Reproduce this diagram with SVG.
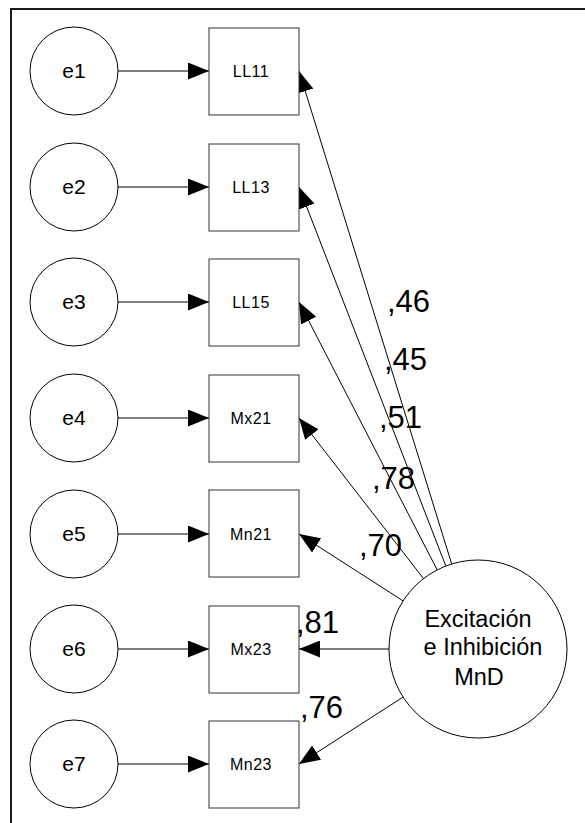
<svg xmlns="http://www.w3.org/2000/svg" width="585" height="823" viewBox="0 0 585 823">
<defs>
<marker id="ah" markerUnits="userSpaceOnUse" markerWidth="22" markerHeight="17" refX="21" refY="8.5" orient="auto">
<path d="M0,0 L21,8.5 L0,17 Z" fill="#000"/>
</marker>
<style>
.c{fill:#fff;stroke:#000;stroke-width:1}
.b{fill:#fff;stroke:#333;stroke-width:1}
.t{font-family:"Liberation Sans",Arial,sans-serif;fill:#000}
.e{font-size:21px;text-anchor:middle}
.v{font-size:16px;text-anchor:middle;letter-spacing:0.5px}
.w{font-size:31px}
.l{font-size:23.5px;text-anchor:middle}
.a{stroke:#000;stroke-width:1;fill:none;marker-end:url(#ah)}
</style>
</defs>
<rect width="585" height="823" fill="#fff"/>
<path d="M11,823 L11,9 L585,9" fill="none" stroke="#1a1a1a" stroke-width="2"/>
<g id="connectors">
<line class="a" x1="118" y1="71" x2="209" y2="71"/>
<line class="a" x1="118" y1="187" x2="209" y2="187"/>
<line class="a" x1="118" y1="302" x2="209" y2="302"/>
<line class="a" x1="118" y1="418" x2="209" y2="418"/>
<line class="a" x1="118" y1="534" x2="209" y2="534"/>
<line class="a" x1="118" y1="649" x2="209" y2="649"/>
<line class="a" x1="118" y1="764" x2="209" y2="764"/>
<line class="a" x1="451.7" y1="564" x2="299" y2="71"/>
<line class="a" x1="445.8" y1="566" x2="299" y2="187"/>
<line class="a" x1="437.2" y1="569.9" x2="299" y2="302"/>
<line class="a" x1="423.5" y1="578.6" x2="299" y2="418"/>
<line class="a" x1="403.1" y1="600.9" x2="299" y2="534"/>
<line class="a" x1="389" y1="649" x2="299" y2="649"/>
<line class="a" x1="403.1" y1="697.1" x2="299" y2="764"/>
</g>
<g id="e1"><circle class="c" cx="74" cy="71" r="44"/><text class="t e" x="74" y="78">e1</text></g>
<g id="e2"><circle class="c" cx="74" cy="187" r="44"/><text class="t e" x="74" y="194">e2</text></g>
<g id="e3"><circle class="c" cx="74" cy="302" r="44"/><text class="t e" x="74" y="309">e3</text></g>
<g id="e4"><circle class="c" cx="74" cy="418" r="44"/><text class="t e" x="74" y="425">e4</text></g>
<g id="e5"><circle class="c" cx="74" cy="534" r="44"/><text class="t e" x="74" y="541">e5</text></g>
<g id="e6"><circle class="c" cx="74" cy="649" r="44"/><text class="t e" x="74" y="656">e6</text></g>
<g id="e7"><circle class="c" cx="74" cy="764" r="44"/><text class="t e" x="74" y="771">e7</text></g>
<g id="LL11"><rect class="b" x="209" y="28" width="90" height="87"/><text class="t v" x="251" y="77">LL11</text></g>
<g id="LL13"><rect class="b" x="209" y="144" width="90" height="87"/><text class="t v" x="251" y="193">LL13</text></g>
<g id="LL15"><rect class="b" x="209" y="259" width="90" height="87"/><text class="t v" x="251" y="308">LL15</text></g>
<g id="Mx21"><rect class="b" x="209" y="375" width="90" height="87"/><text class="t v" x="251" y="424">Mx21</text></g>
<g id="Mn21"><rect class="b" x="209" y="490" width="90" height="87"/><text class="t v" x="251" y="540">Mn21</text></g>
<g id="Mx23"><rect class="b" x="209" y="606" width="90" height="87"/><text class="t v" x="251" y="655">Mx23</text></g>
<g id="Mn23"><rect class="b" x="209" y="721" width="90" height="87"/><text class="t v" x="251" y="770">Mn23</text></g>
<g id="latent"><circle class="c" cx="478" cy="649" r="89"/>
<text class="t l" x="478" y="627">Excitación</text>
<text class="t l" x="483" y="655">e Inhibición</text>
<text class="t l" x="479" y="685">MnD</text></g>
<g id="labels">
<text class="t w" x="387" y="312">,46</text>
<text class="t w" x="384" y="370">,45</text>
<text class="t w" x="379" y="428">,51</text>
<text class="t w" x="372" y="489">,78</text>
<text class="t w" x="359" y="556">,70</text>
<text class="t w" x="296" y="633">,81</text>
<text class="t w" x="300" y="718">,76</text>
</g>
</svg>
